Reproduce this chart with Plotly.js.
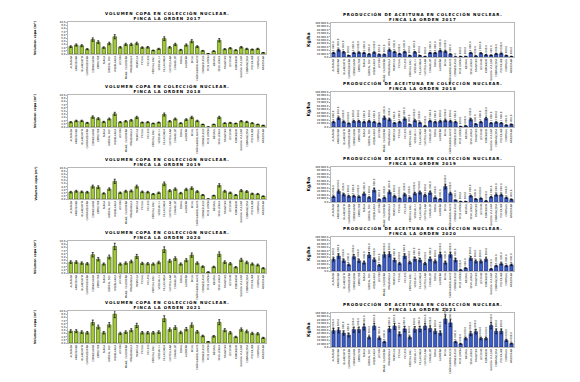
<!DOCTYPE html>
<html><head><meta charset="utf-8">
<script src="https://cdn.plot.ly/plotly-3.0.1.min.js"></script>
<style>html,body{margin:0;padding:0;background:#fff}#c{width:580px;height:382px}</style>
</head><body><div id="c"></div>
<script>
const variedades = ["ALFAFARA","ARBEQUINA","BLANQUETA","CARRASQUEÑA","CORNICABRA","EMPELTRE","FARGA","GORDAL SEV.","HOJIBLANCA","LECHÍN","MANZ. CACEREÑA","MANZANILLA","MORISCA","PICUAL","PICUDO","VERDIAL BAD.","VERDIAL H.","VILLALONGA","CASTELLANA","CHANGLOT","ROYAL","ALOREÑA","BICAL","CAÑIVANO BLANCO","CORNEZUELO","PICO LIMÓN","NEGRAL","SEVILLENCA","FRANTOIO","LECCINO","KORONEIKI","GALEGA VULGAR","COBRANÇOSA","PICHOLINE","CHEMLALI","ARBOSANA"];
const años = ["2017","2018","2019","2020","2021"];
const vol2017 = [2.3,2.8,2.6,1.5,4.5,3.7,2.0,3.3,5.4,2.1,3.0,3.0,3.3,2.0,2.1,1.1,1.6,4.8,2.1,3.0,1.3,2.8,4.0,2.3,1.0,0.1,0.9,4.3,1.5,1.8,1.2,2.1,1.6,1.4,1.6,0.4];
const vol2018 = [1.5,1.9,1.9,1.3,3.1,2.6,1.6,2.5,4.1,1.5,1.8,2.1,3.0,1.4,1.5,1.1,1.4,3.9,1.8,2.5,1.2,2.3,3.0,1.9,0.8,0,0.8,3.0,1.2,1.3,1.1,1.8,1.6,1.2,0.8,0.5];
const vol2019 = [2.2,2.5,2.3,2.2,4.0,3.8,1.8,3.2,5.7,2.0,2.5,2.6,4.0,2.3,2.2,1.6,2.0,4.9,2.7,3.2,1.9,3.1,3.5,2.4,1.3,0,1.1,4.4,2.5,2.0,1.3,2.7,2.4,1.7,1.6,0.9];
const vol2020 = [3.4,3.4,3.1,2.9,5.7,4.3,2.8,5.0,8.3,2.8,3.1,3.6,5.2,3.0,2.9,2.8,3.3,7.3,3.8,4.5,2.8,4.0,5.6,3.1,2.0,0.3,1.9,5.9,3.4,2.9,1.8,4.1,3.3,2.8,2.5,1.5];
const vol2021 = [3.7,3.7,3.4,3.2,6.4,5.0,3.2,5.7,9.0,3.0,3.4,4.0,5.5,3.2,3.2,3.2,3.4,7.6,4.2,4.8,3.3,4.3,5.6,3.5,2.2,0.4,2.1,6.5,4.0,3.2,1.9,4.2,3.6,3.0,2.9,1.6];
const prod2017 = [12000,20000,14000,4000,12000,13000,12000,8000,13000,7000,7000,20000,15000,9000,15000,4000,14000,4000,1000,12000,12000,18000,16000,8000,0,1000,1000,12000,3000,11000,6000,5000,9000,10000,4000,1000];
const prod2018 = [14000,25000,15000,10000,16000,16000,14000,16000,14000,10000,26000,21000,11000,14000,23000,7000,18000,12000,3000,17000,14000,16000,18000,16000,14000,1000,3000,21000,8000,14000,24000,11000,13000,11000,5000,7000];
const prod2019 = [15000,30000,21000,16000,17000,15000,23000,13000,34000,7000,12000,28000,16000,10000,21000,12000,24000,27000,19000,26000,12000,8000,44000,24000,5000,1000,1000,17000,8000,10000,3000,14000,20000,20000,12000,7000];
const prod2020 = [34000,44000,30000,18000,42000,30000,24000,47000,33000,17000,48000,49000,32000,22000,44000,25000,35000,32000,22000,35000,28000,48000,24000,48000,32000,3000,8000,37000,28000,28000,34000,6000,15000,21000,15000,18000];
const prod2021 = [48000,49000,41000,35000,51000,51000,59000,28000,61000,26000,15000,53000,61000,38000,53000,28000,52000,53000,61000,54000,46000,41000,82000,71000,15000,9000,25000,39000,45000,25000,25000,63000,46000,46000,19000,10000];
const volumen = [vol2017,vol2018,vol2019,vol2020,vol2021];
const produccion = [prod2017,prod2018,prod2019,prod2020,prod2021];

const W = 580, H = 382;
const leftRows = [[22,54],[95,127],[168,199],[241,273],[311,343]];
const rightRows = [[23,57],[92,127],[167,202],[237,271],[313,347]];
const leftX = [68,266], rightX = [331,514];

const data = [], annotations = [];
const layout = {
  width: W, height: H, margin:{l:0,r:0,t:0,b:0}, showlegend:false,
  paper_bgcolor:'#fff', plot_bgcolor:'#fff', separators:', ',
  font:{family:'DejaVu Sans, Arial', size:3, color:'#000'},
  bargap:0.35, annotations: annotations
};
const tick = {family:'DejaVu Sans', size:2.6, color:'#000'};
function axes(idx, xpx, ypx, range, dtick, fmt){
  const xa = 'xaxis'+(idx===1?'':idx), ya = 'yaxis'+(idx===1?'':idx);
  layout[xa] = {domain:[xpx[0]/W, xpx[1]/W], anchor:'y'+idx, type:'category',
    tickangle:-90, tickfont:tick, showline:true, linecolor:'#888', linewidth:0.6, mirror:true,
    ticks:'', showgrid:false, automargin:false, fixedrange:true};
  layout[ya] = {domain:[1-ypx[1]/H, 1-ypx[0]/H], anchor:'x'+idx, range:range, dtick:dtick,
    tickformat:fmt, tickfont:tick, showline:true, linecolor:'#888', linewidth:0.6, mirror:true,
    ticks:'outside', ticklen:1.5, tickwidth:0.5, tickcolor:'#555', showgrid:false, zeroline:false, automargin:false, fixedrange:true};
}
const sp = s => '<span style="letter-spacing:0.9px">'+s+'</span>';
for(let i=0;i<5;i++){
  const li = 2*i+1, ri = 2*i+2;
  axes(li, leftX, leftRows[i], [0,10], 1, ',.1f');
  axes(ri, rightX, rightRows[i], [0,100000], 10000, ',.1f');
  data.push({type:'bar', x:variedades, y:volumen[i], xaxis:'x'+li, yaxis:'y'+li,
    marker:{color:'#9fc935', line:{color:'#3d4f12', width:0.6}},
    error_y:{type:'percent', value:12, color:'#000', thickness:0.7, width:1}});
  data.push({type:'bar', x:variedades, y:produccion[i], xaxis:'x'+ri, yaxis:'y'+ri,
    marker:{color:'#3a5cc8', line:{color:'#14245e', width:0.6}},
    error_y:{type:'percent', value:15, color:'#000', thickness:0.7, width:1},
    texttemplate:'%{y:,.1f}', textposition:'outside', textangle:-90, constraintext:'none',
    textfont:{family:'DejaVu Sans', size:2.6, color:'#000'}, cliponaxis:false});
  const tf = {family:'DejaVu Sans', size:4, color:'#000'};
  annotations.push({xref:'paper', yref:'paper', x:(leftX[0]+leftX[1])/2/W, y:1-(leftRows[i][0])/H,
    xanchor:'center', yanchor:'bottom', showarrow:false, font:tf, borderpad:0,
    text:'<b>'+sp('VOLUMEN COPA EN COLECCIÓN NUCLEAR.')+'<br>'+sp('FINCA LA ORDEN '+años[i])+'</b>'});
  annotations.push({xref:'paper', yref:'paper', x:(rightX[0]+rightX[1])/2/W, y:1-(rightRows[i][0])/H,
    xanchor:'center', yanchor:'bottom', showarrow:false, font:tf, borderpad:0,
    text:'<b>'+sp('PRODUCCIÓN DE ACEITUNA EN COLECCIÓN NUCLEAR.')+'<br>'+sp('FINCA LA ORDEN '+años[i])+'</b>'});
  annotations.push({xref:'paper', yref:'paper', x:35/W, y:1-(leftRows[i][0]+leftRows[i][1])/2/H,
    xanchor:'center', yanchor:'middle', showarrow:false, textangle:-90,
    font:{family:'DejaVu Sans', size:3.2, color:'#000'}, text:'<b>Volumen copa (m³)</b>'});
  annotations.push({xref:'paper', yref:'paper', x:308/W, y:1-(rightRows[i][0]+rightRows[i][1])/2/H,
    xanchor:'center', yanchor:'middle', showarrow:false, textangle:-90,
    font:{family:'DejaVu Sans', size:4.5, color:'#000'}, text:'<b>Kg/ha</b>'});
}
Plotly.newPlot('c', data, layout, {displayModeBar:false, staticPlot:true});
</script></body></html>
